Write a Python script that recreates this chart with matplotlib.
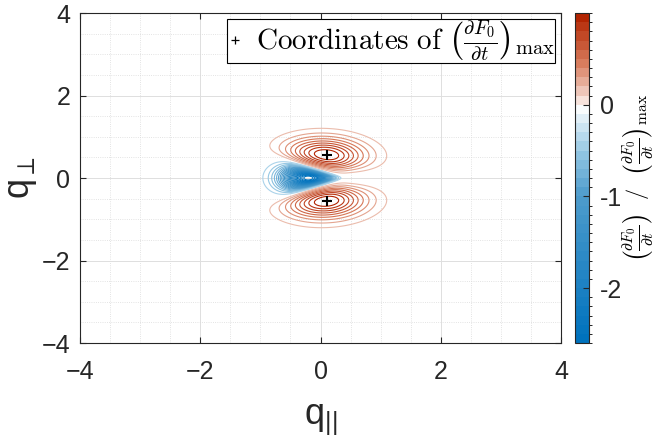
import numpy as np
import matplotlib
matplotlib.use("Agg")
import matplotlib.pyplot as plt
from matplotlib import colors
from matplotlib.cm import ScalarMappable

plt.rcParams['font.family'] = ['Liberation Sans', 'DejaVu Sans']
plt.rcParams['mathtext.fontset'] = 'custom'
plt.rcParams['mathtext.rm'] = 'Liberation Sans'
plt.rcParams['mathtext.it'] = 'Liberation Sans:italic'

# axis ranges and ticks
q_lim = (-4, 4)
q_ticks = [-4, -2, 0, 2, 4]
cbar_ticks = [-2, -1, 0]

# normalised dF0/dt range and contour spacing
z_min, z_max = -2.6, 1.0
z_step = 0.1

# zero-line wedge: |q_perp| = slope * (apex - q_par)
wedge_apex, wedge_slope = 0.44, 0.44
# envelopes (centre in q_par, width^2 in q_par, width^2 in q_perp)
neg_env = (0.167, 0.235, 0.17)
pos_env = (-0.018, 0.52, 0.291)

# colour anchors of the diverging map (value, rgb)
cmap_anchors = [(-2.6, (0, 114, 189)),
                (-1.0, (78, 156, 204)),
                (-0.5, (150, 200, 228)),
                (0.0, (255, 255, 255)),
                (0.1, (243, 214, 204)),
                (0.5, (214, 120, 88)),
                (1.0, (178, 36, 2))]
# shift of the line colours away from zero, negative / positive side
line_shift = (-0.3, 0.1)

# %% field on the (q_par, q_perp) grid
q = np.linspace(q_lim[0], q_lim[1], 1201)
Qpar, Qperp = np.meshgrid(q, q)

P = Qperp**2 - wedge_slope**2 * np.clip(wedge_apex - Qpar, 0, None)**2
neg = P * np.exp(-((Qpar - neg_env[0])**2 / neg_env[1] + Qperp**2 / neg_env[2]))
pos = P * np.exp(-((Qpar - pos_env[0])**2 / pos_env[1] + Qperp**2 / pos_env[2]))
Z = np.where(P > 0, z_max * pos / pos.max(), z_min * neg / neg.min())

# coordinates of the maximum, one in each half-plane
upper = np.where(Qperp > 0, Z, -np.inf)
lower = np.where(Qperp < 0, Z, -np.inf)
i_up = np.unravel_index(np.argmax(upper), Z.shape)
i_lo = np.unravel_index(np.argmax(lower), Z.shape)
max_par = [Qpar[i_up], Qpar[i_lo]]
max_perp = [Qperp[i_up], Qperp[i_lo]]

# colormap
span = z_max - z_min
cmap = colors.LinearSegmentedColormap.from_list(
    'rb', [((v - z_min) / span, tuple(c / 255 for c in rgb)) for v, rgb in cmap_anchors])
norm = colors.Normalize(z_min, z_max)

levels = np.round(np.arange(z_min, z_max + z_step / 2, z_step), 2)
line_levels = levels[levels != 0]
line_colors = [cmap(norm(v + (line_shift[0] if v < 0 else line_shift[1])))
               for v in line_levels]

# %% plot
fig = plt.figure(figsize=(6.57, 4.41), dpi=100)
ax = fig.add_axes([0.1218, 0.2222, 0.7321, 0.7483])
cax = fig.add_axes([0.8752, 0.2222, 0.0213, 0.7483])

ax.contour(Qpar, Qperp, Z, levels=line_levels, colors=line_colors, linewidths=0.8)
ax.plot(max_par, max_perp, 'k+', ms=7, mew=1.5,
        label=r'$\mathrm{Coordinates\ of\ }\left(\frac{\partial F_0}{\partial t}\right)_{\max}$')

ax.set_xlim(q_lim)
ax.set_ylim(q_lim)
ax.set_xticks(q_ticks)
ax.set_yticks(q_ticks)
ax.set_xticks(np.arange(q_lim[0], q_lim[1] + 0.01, 0.5), minor=True)
ax.set_yticks(np.arange(q_lim[0], q_lim[1] + 0.01, 0.5), minor=True)
ax.set_axisbelow(True)
ax.grid(which='major', color='#dedede', lw=0.7)
ax.grid(which='minor', color='#dadada', lw=0.6, ls=':')
ax.tick_params(which='major', direction='in', top=True, right=True, length=4,
               labelsize=18, colors='#262626', pad=7)
ax.tick_params(axis='x', which='major', pad=12)
ax.tick_params(which='minor', length=0)
for s in ax.spines.values():
    s.set_color('#262626')
    s.set_linewidth(0.8)

ax.set_xlabel(r'q$_{||}$', fontsize=26, color='#262626', labelpad=13)
ax.set_ylabel(r'q$_{\perp}$', fontsize=26, color='#262626', labelpad=2)

leg = ax.legend(loc='upper right', bbox_to_anchor=(0.988, 0.982), borderaxespad=0,
                fancybox=False, edgecolor='black', framealpha=1,
                handlelength=0.5, handletextpad=0.5, borderpad=0.0,
                prop=dict(size=21, math_fontfamily='cm'))
leg.get_frame().set_linewidth(0.8)
leg.legend_handles[0].set_markersize(6)
leg.legend_handles[0].set_markeredgewidth(0.9)

# colorbar drawn in bands of one contour step
band_norm = colors.BoundaryNorm(levels, cmap.N)
sm = ScalarMappable(norm=band_norm, cmap=cmap)
cb = fig.colorbar(sm, cax=cax, ticks=cbar_ticks, boundaries=levels)
cb.ax.tick_params(direction='in', length=4, labelsize=18, colors='#262626', pad=8)
cb.ax.set_yticklabels([str(t) for t in cbar_ticks])
cb.outline.set_edgecolor('#262626')
cb.outline.set_linewidth(0.8)
cb.set_label(r'$\left(\frac{\partial F_0}{\partial t}\right)\ \ /\ \ \left(\frac{\partial F_0}{\partial t}\right)_{\max}$',
             fontsize=16, math_fontfamily='cm', labelpad=-1.5)

fig.savefig('out.png', dpi=100, facecolor='white')
